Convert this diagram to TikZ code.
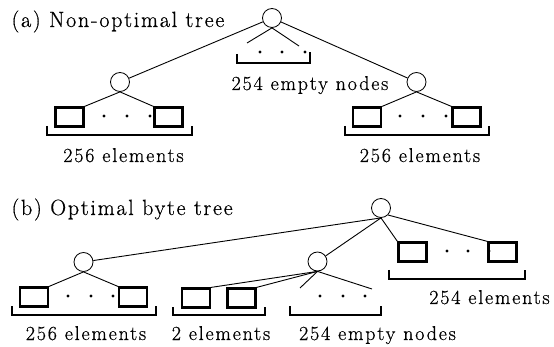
\documentclass[tikz,border=0pt]{standalone}
\usepackage{fontspec}
\setmainfont{Latin Modern Roman}[LetterSpace=8, FakeBold=0.6]
\begin{document}
\begin{tikzpicture}[x=1pt,y=-1pt,
    knot/.style={draw, circle, minimum size=19pt, inner sep=0pt, line width=0.8pt},
    leaf/.style={draw, rectangle, minimum width=28pt, minimum height=19pt, inner sep=0pt, line width=2.2pt},
    edge/.style={line width=0.9pt},
    brace/.style={line width=2pt},
    lbl/.style={font=\fontsize{20}{23}\selectfont\addfontfeature{LetterSpace=9}},
    ttl/.style={font=\fontsize{22}{25}\selectfont}]

    \useasboundingbox (0,0) rectangle (554,347);

    %----- (a) NON-OPTIMAL TREE -----
    \node[ttl, anchor=base west] (ta) at (8,27) {(a) Non-optimal tree};

    \node[knot] (ra) at (272,18) {};
    \node[knot] (ra1) at (120,82) {};
    \node[knot] (ra2) at (416.5,82) {};

    \coordinate (ea1) at (247,43);
    \coordinate (ea2) at (299,46);

    \node[leaf] (la1) at (69.5,117) {};
    \node[leaf] (la2) at (168.5,117) {};
    \node[leaf] (la3) at (367,117) {};
    \node[leaf] (la4) at (466.5,117) {};

    \draw[edge] (ra) -- (ra1);
    \draw[edge] (ra) -- (ra2);
    \draw[edge] (ra.south) -- (ea1);
    \draw[edge] (ra.south) -- (ea2);
    \draw[edge] (ra1.south) -- (la1.north east);
    \draw[edge] (ra1.south) -- (la2.north west);
    \draw[edge] (ra2.south) -- (la3.north east);
    \draw[edge] (ra2.south) -- (la4.north west);

    % dots
    \foreach \x in {260,282,305} \fill (\x,52) circle (1.6pt);
    \foreach \x in {104,127,150,400,423,446} \fill (\x,116) circle (1.6pt);

    % brackets
    \draw[brace] (237,54) |- (310,63) -- (310,52);
    \draw[brace] (47,126) |- (192,135) -- (192,126);
    \draw[brace] (345,126) |- (489,135) -- (489,126);

    \node[lbl, anchor=base] (na) at (310,90) {254 empty nodes};
    \node[lbl, anchor=base] (na1) at (123.5,162) {256 elements};
    \node[lbl, anchor=base] (na2) at (420,162) {256 elements};

    %----- (b) OPTIMAL BYTE TREE -----
    \node[ttl, anchor=base west] (tb) at (8,215) {(b) Optimal byte tree};

    \node[knot] (rb) at (381,208) {};
    \node[knot] (rb1) at (83.5,262) {};
    \node[knot] (rb2) at (317.5,261.5) {};

    \coordinate (eb1) at (300,288);
    \coordinate (eb2) at (372,289);

    \node[leaf] (lb1) at (34,297) {};
    \node[leaf] (lb2) at (133,297) {};
    \node[leaf] (lb3) at (196,298) {};
    \node[leaf] (lb4) at (241.5,298) {};
    \node[leaf] (lb5) at (412.5,252) {};
    \node[leaf] (lb6) at (502.5,252) {};

    \draw[edge] (rb.south) -- (rb1);
    \draw[edge] (rb.south) -- (rb2);
    \draw[edge] (rb.south) -- (lb5.north west);
    \draw[edge] (rb.south east) -- (lb6.north west);
    \draw[edge] (rb1.south) -- (lb1.north east);
    \draw[edge] (rb1.south) -- (lb2.north west);
    \draw[edge] (rb2.south) -- (lb3.north east);
    \draw[edge] (rb2.south) -- (lb4.north east);
    \draw[edge] (rb2.south) -- (eb1);
    \draw[edge] (rb2.south) -- (eb2);

    % dots
    \foreach \x in {68,91,113,320,343,365} \fill (\x,296) circle (1.6pt);
    \foreach \x in {447,468,489} \fill (\x,251) circle (1.6pt);

    % brackets
    \draw[brace] (12,306) |- (156,315) -- (156,306);
    \draw[brace] (173,307) |- (265,315) -- (265,307);
    \draw[brace] (290,306) |- (381,315) -- (381,306);
    \draw[brace] (389,270) |- (525,279) -- (525,270);

    \node[lbl, anchor=base] (nb1) at (86,340) {256 elements};
    \node[lbl, anchor=base] (nb2) at (221,340) {2 elements};
    \node[lbl, anchor=base] (nb3) at (377.5,340) {254 empty nodes};
    \node[lbl, anchor=base] (nb4) at (489.5,304) {254 elements};

\end{tikzpicture}
\end{document}
